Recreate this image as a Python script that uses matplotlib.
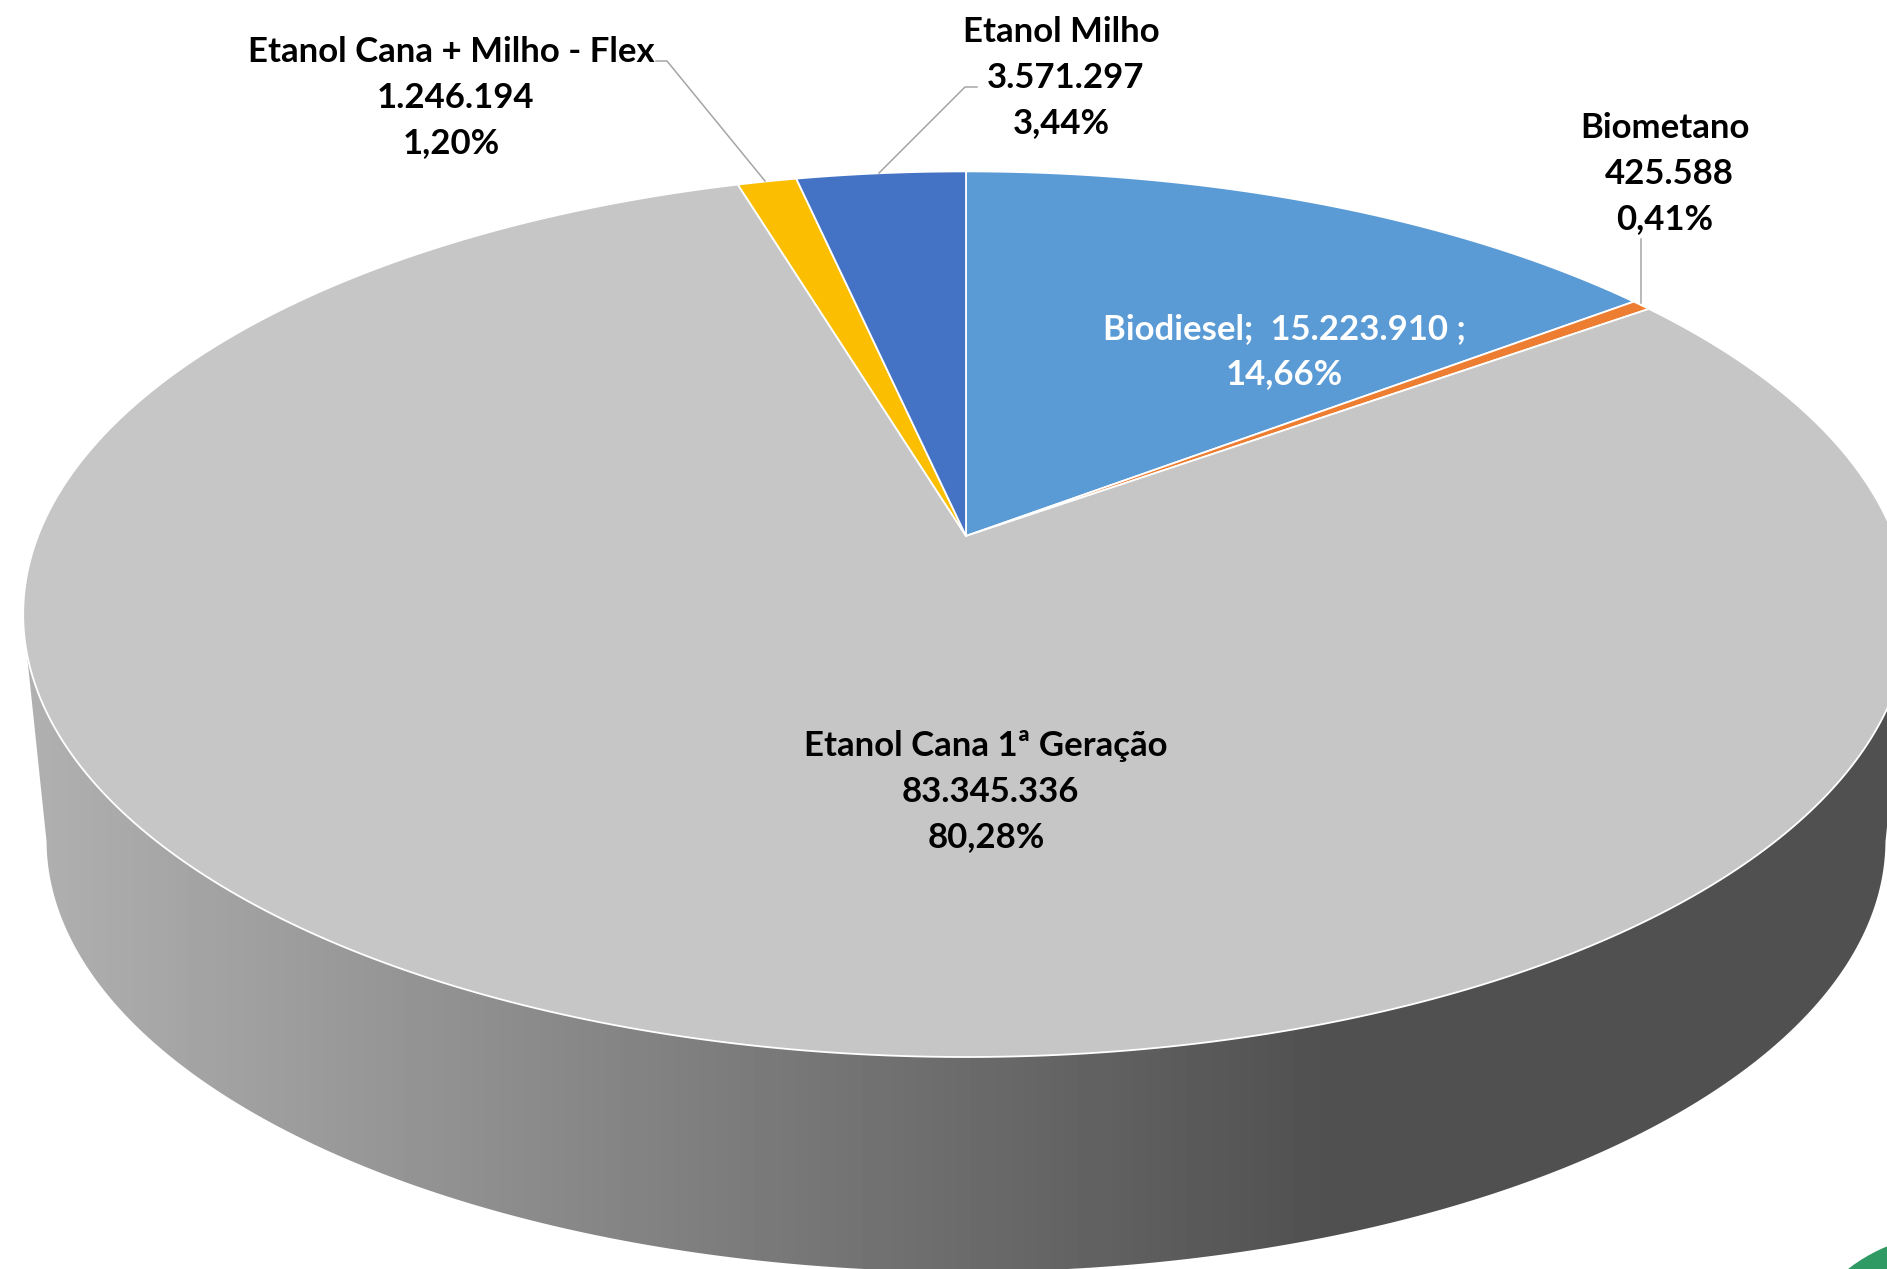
import numpy as np
import matplotlib
matplotlib.use("Agg")
import matplotlib.pyplot as plt
from matplotlib.patches import Circle, Polygon

W, H = 1887, 1269

# data, clockwise from 12 o'clock
names = ["Biodiesel", "Biometano", "Etanol Cana 1ª Geração", "Etanol Cana + Milho - Flex", "Etanol Milho"]
values = [15223910, 425588, 83345336, 1246194, 3571297]
colors = ["#5B9BD5", "#ED7D31", "#C6C6C6", "#FBBE00", "#4472C4"]

# perspective of the tilted disc, in pixels
K = 0.1766
def project(theta, cx=966, cy=536, bx=928, ay=429):
    u, v = np.sin(theta), np.cos(theta)
    w = 1 + K * v
    return cx + bx * u / w, cy - ay * v / w

def fmt_value(n):
    return f"{n:,}".replace(",", ".")

def fmt_pct(n):
    return f"{100 * n / sum(values):.2f}".replace(".", ",") + "%"

fig = plt.figure(figsize=(W / 100, H / 100), dpi=100)
ax = fig.add_axes([0, 0, 1, 1])
ax.set_xlim(0, W)
ax.set_ylim(H, 0)
ax.axis("off")

# side wall with horizontal gradient
t_top = np.linspace(np.pi - np.arccos(0.26), np.pi + np.arccos(0.26), 300)
t_low = np.linspace(np.pi + np.arccos(0.18), np.pi - np.arccos(0.18), 300)
xt, yt = project(t_top)
xl, yl = project(t_low, cy=764, bx=905, ay=418)
side = Polygon(np.column_stack([np.r_[xt, xl], np.r_[yt, yl]]), closed=True, fc="none", ec="none")
ax.add_patch(side)
grad = np.clip(176 - 96 * (np.arange(W) - 30) / 1300, 80, 176) / 255
img = ax.imshow(grad[None, :], cmap="gray", vmin=0, vmax=1, extent=[0, W, H, 0], aspect="auto", zorder=1)
img.set_clip_path(side)

# top face slices
edges = np.r_[0, np.cumsum(values)] / sum(values) * 2 * np.pi
for i in range(len(values)):
    t = np.linspace(edges[i], edges[i + 1], 400)
    x, y = project(t)
    cx0, cy0 = 966, 536
    ax.fill(np.r_[cx0, x], np.r_[cy0, y], fc=colors[i], ec="white", lw=1.3, joinstyle="round", zorder=2)

# leader lines
leader = dict(color="#A5A5A5", lw=1.1, zorder=3)
ax.plot([656, 667, 765], [61, 61, 181], **leader)
ax.plot([977, 965, 879], [87, 87, 173], **leader)
ax.plot([1641, 1641], [239, 303], **leader)

# labels
font = dict(family="Lato", weight="bold", fontsize=25, ha="center", va="center", zorder=4)
pitch = 45.6
label_pos = {0: (1284, 329), 1: (1665, 128), 2: (986, 746), 3: (451, 52), 4: (1061, 32)}
for i in [1, 2, 3, 4]:
    x, y = label_pos[i]
    ax.text(x, y, names[i], color="black", **font)
    ax.text(x + 4, y + pitch, fmt_value(values[i]), color="black", **font)
    ax.text(x, y + 2 * pitch, fmt_pct(values[i]), color="black", **font)
x, y = label_pos[0]
ax.text(x, y, f"{names[0]};  {fmt_value(values[0])} ;", color="white", **font)
ax.text(x, y + pitch - 1, fmt_pct(values[0]), color="white", **font)

# green corner of the slide background
ax.add_patch(Circle((1950, 1400), 166, fc="#2F9A63", ec="none", zorder=1))

fig.savefig("out.png", dpi=100, facecolor="white")
